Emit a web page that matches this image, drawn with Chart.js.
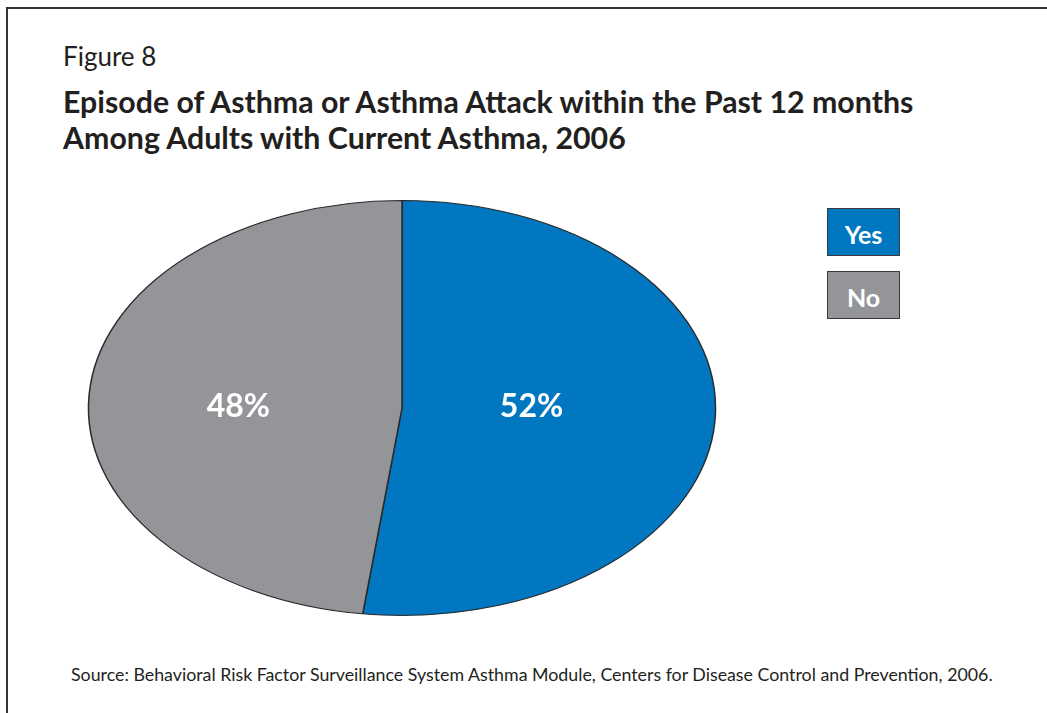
<!DOCTYPE html>
<html lang="en">
<head>
    <meta charset="UTF-8" />
    <title>Figure 8 - Asthma Episodes</title>
    <style>
        html, body {
            margin: 0;
            padding: 0;
            width: 1047px;
            height: 713px;
            overflow: hidden;
            background: #fff;
            font-family: "Lato", sans-serif;
            color: #231f20;
        }
        #frame {
            position: absolute;
            left: 6px;
            top: 7px;
            width: 1200px;
            height: 900px;
            border-left: 2px solid #333;
            border-top: 2px solid #333;
        }
        #fig-num {
            position: absolute;
            left: 63px;
            top: 40px;
            font-size: 26px;
            line-height: 32px;
        }
        #title {
            position: absolute;
            left: 63px;
            top: 83px;
            font-size: 30.3px;
            line-height: 36px;
            font-weight: bold;
        }
        #chart-box {
            position: absolute;
            left: 72px;
            top: 193px;
            width: 660px;
            height: 430px;
        }
        .legend-item {
            position: absolute;
            left: 827px;
            width: 71px;
            height: 42px;
            padding-top: 4px;
            border: 1px solid #3a3a3a;
            color: #fff;
            font-weight: bold;
            font-size: 25px;
            line-height: 42px;
            text-align: center;
        }
        #source {
            position: absolute;
            left: 71px;
            top: 663px;
            font-size: 17.8px;
            line-height: 22px;
        }
    </style>
    <script src="https://cdn.jsdelivr.net/npm/chart.js"></script>
</head>
<body>
<div id="frame"></div>
<div id="fig-num">Figure 8</div>
<div id="title">Episode of Asthma or Asthma Attack within the Past 12 months<br>Among Adults with Current Asthma, 2006</div>
<div id="chart-box">
    <canvas id="pieChart" width="660" height="430"></canvas>
</div>
<div id="legend"></div>
<div id="source">Source: Behavioral Risk Factor Surveillance System Asthma Module, Centers for Disease Control and Prevention, 2006.</div>

<script>
  const labels = ["Yes", "No"];
  const percents = [52, 48];
  const colors = ["#0077c0", "#939598"];

  // legend boxes with the label written inside
  const legendTops = [208, 271];
  const legend = document.getElementById("legend");
  labels.forEach((name, i) => {
    const el = document.createElement("div");
    el.className = "legend-item";
    el.style.top = legendTops[i] + "px";
    el.style.background = colors[i];
    el.textContent = name;
    legend.appendChild(el);
  });

  // squash the round pie into an ellipse and print the percentages
  const ellipsePie = {
    id: "ellipsePie",
    beforeDatasetsDraw(chart, args, opts) {
      const arc = chart.getDatasetMeta(0).data[0];
      const ctx = chart.ctx;
      ctx.save();
      ctx.translate(arc.x, arc.y);
      ctx.scale(opts.stretch, 1);
      ctx.translate(-arc.x, -arc.y);
    },
    afterDatasetsDraw(chart, args, opts) {
      const ctx = chart.ctx;
      ctx.restore();
      const arcs = chart.getDatasetMeta(0).data;
      ctx.save();
      ctx.fillStyle = "#fff";
      ctx.font = "bold 32px Lato, sans-serif";
      ctx.textAlign = "center";
      ctx.textBaseline = "middle";
      arcs.forEach((a, i) => {
        // labels sit on the horizontal through the centre
        const mid = (a.startAngle + a.endAngle) / 2;
        const r = a.outerRadius * opts.labelRadius[i];
        const x = a.x + Math.cos(mid) * r * opts.stretch;
        ctx.fillText(percents[i] + "%", x, a.y - 1);
      });
      ctx.restore();
    },
  };

  new Chart(document.getElementById("pieChart"), {
    type: "pie",
    data: {
      labels: labels,
      datasets: [
        {
          data: percents,
          backgroundColor: colors,
          borderColor: "#2a2a2a",
          borderWidth: 1,
        },
      ],
    },
    options: {
      responsive: false,
      animation: false,
      layout: { padding: { top: 7, bottom: 7 } },
      events: [],
      plugins: {
        legend: { display: false },
        tooltip: { enabled: false },
        ellipsePie: { stretch: 1.511, labelRadius: [0.414, 0.523] },
      },
    },
    plugins: [ellipsePie],
  });
</script>
</body>
</html>
